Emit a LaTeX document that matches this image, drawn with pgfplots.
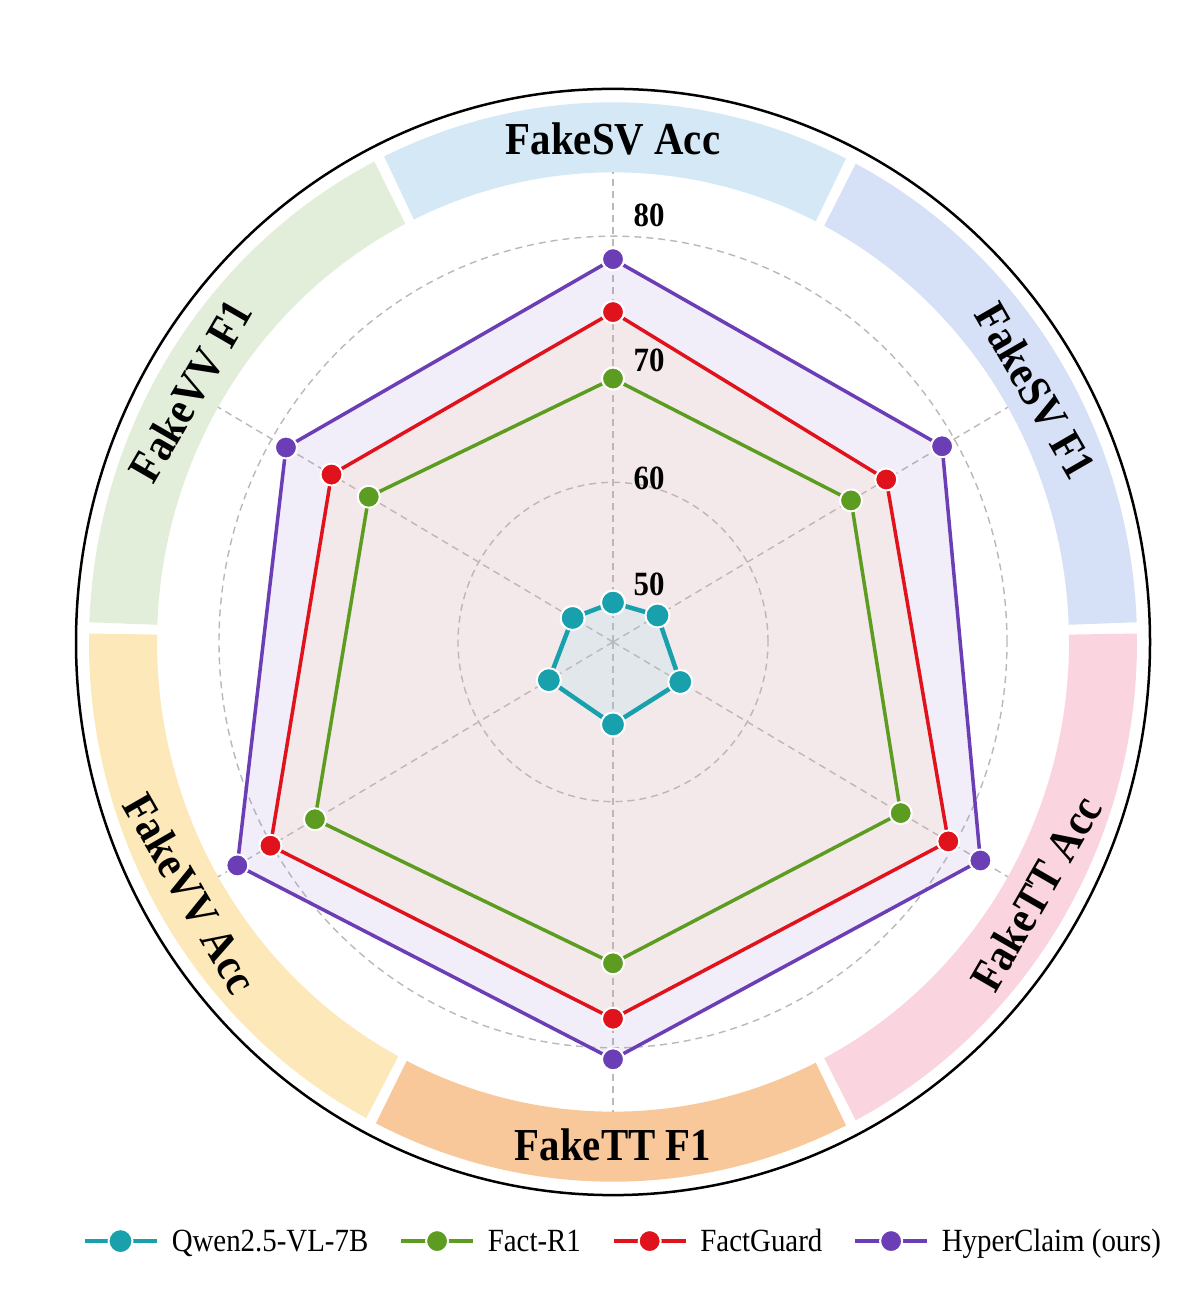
\documentclass[border=0pt]{standalone}
\usepackage{pgfplots}
\pgfplotsset{compat=1.18}
\usepackage{pgfplotstable}
\usepackage{graphicx}
\usepackage{fontspec}
\setmainfont{Liberation Serif}

\definecolor{cteal}{RGB}{24,160,172}
\definecolor{cgreen}{RGB}{92,156,32}
\definecolor{cred}{RGB}{224,18,28}
\definecolor{cpurple}{RGB}{108,62,182}
\definecolor{fpurple}{RGB}{168,142,215}
\definecolor{fred}{RGB}{255,205,149}
\definecolor{fteal}{RGB}{124,220,235}
\definecolor{ringA}{RGB}{212,232,246}
\definecolor{ringB}{RGB}{214,224,246}
\definecolor{ringC}{RGB}{250,212,222}
\definecolor{ringD}{RGB}{248,200,155}
\definecolor{ringE}{RGB}{252,232,184}
\definecolor{ringF}{RGB}{226,238,218}
\definecolor{gridgray}{RGB}{185,185,185}

% angle (deg), scores; radius drawn = score - 47
\pgfplotstableread{
angle qwen factr1 factguard hyper
90   50.2 68.4 73.8 78.1
30   51.3 70.0 73.4 78.8
-30  53.5 74.8 79.4 82.5
-90  53.7 73.1 77.6 80.9
-150 53.2 75.8 80.1 83.3
150  50.9 70.6 74.2 78.6
90   50.2 68.4 73.8 78.1
}\radar

\newcommand{\sector}[3]{%
  \fill[#1] (#2:456bp) arc[start angle=#2,end angle=#3,radius=456bp]
    -- (#3:524bp) arc[start angle=#3,end angle=#2,radius=524bp] -- cycle;}

\begin{document}
\begin{tikzpicture}
\useasboundingbox (0,0) rectangle (1201bp,1309bp);
\fill[white] (0,0) rectangle (1201bp,1309bp);
\begin{scope}[shift={(613bp,667bp)}, yscale=1.03]
  \sector{ringA}{63.6}{115.9}
  \sector{ringB}{2.1}{62.4}
  \sector{ringC}{-62.4}{0.9}
  \sector{ringD}{-116.9}{-63.6}
  \sector{ringE}{179.1}{241.9}
  \sector{ringF}{117.1}{177.9}
  \draw[line width=2.5bp, black] (0,0) circle[radius=537bp];
  \draw[gridgray, line width=1.4bp, dash pattern=on 7bp off 5bp] (0,0) circle[radius=155bp];
  \draw[gridgray, line width=1.4bp, dash pattern=on 7bp off 5bp] (0,0) circle[radius=394bp];
  \foreach \a in {90,30,-30,-90,-150,150}
    \draw[gridgray, line width=1.4bp, dash pattern=on 7bp off 5bp] (0,0) -- (\a:456bp);
  \begin{scope}[font=\bfseries\fontsize{41}{45}\selectfont]
    \node[rotate=0]   at (90:488bp)   {\scalebox{1}[1.12]{FakeSV Acc}};
    \node[rotate=-60] at (30:488bp)   {\scalebox{1}[1.12]{FakeSV F1}};
    \node[rotate=60]  at (-30:488bp)  {\scalebox{1}[1.12]{FakeTT Acc}};
    \node[rotate=0]   at (-90:488bp)  {\scalebox{1}[1.12]{FakeTT F1}};
    \node[rotate=-60] at (-150:488bp) {\scalebox{1}[1.12]{FakeVV Acc}};
    \node[rotate=60]  at (150:488bp)  {\scalebox{1}[1.12]{FakeVV F1}};
  \end{scope}
\end{scope}

\begin{axis}[
  at={(613bp,667bp)}, anchor=origin,
  x=11.95bp, y=12.31bp,
  xmin=-51.3, xmax=49.2, ymin=-54.2, ymax=52.2,
  hide axis, clip=false,
  legend columns=4,
  legend cell align=left,
  legend style={at={(0.518,0.052)}, anchor=center, draw=none, fill=none,
    font=\fontsize{29}{32}\selectfont,
    nodes={inner sep=1bp},
    /tikz/every odd column/.append style={column sep=12bp},
    /tikz/every even column/.append style={column sep=30bp}},
  legend image code/.code={\draw[#1, mark repeat=2, mark phase=2]
    plot coordinates {(0bp,0bp) (36bp,0bp) (72bp,0bp)};},
]
% fills
\addplot[draw=none, fill=fpurple, fill opacity=0.15, forget plot, data cs=polar]
  table[x=angle, y expr=\thisrow{hyper}-47] {\radar};
\addplot[draw=none, fill=fred, fill opacity=0.15, forget plot, data cs=polar]
  table[x=angle, y expr=\thisrow{factguard}-47] {\radar};
\addplot[draw=none, fill=fteal, fill opacity=0.15, forget plot, data cs=polar]
  table[x=angle, y expr=\thisrow{qwen}-47] {\radar};
% lines
\addplot[cteal, line width=4.5bp, line join=round, data cs=polar, mark=*, mark size=12bp,
  mark options={solid, fill=cteal, draw=white, line width=2bp}]
  table[x=angle, y expr=\thisrow{qwen}-47] {\radar};
\addlegendentry{\scalebox{1}[1.12]{Qwen2.5-VL-7B}}
\addplot[cgreen, line width=3.5bp, line join=round, data cs=polar, mark=*, mark size=11bp,
  mark options={solid, fill=cgreen, draw=white, line width=2bp}]
  table[x=angle, y expr=\thisrow{factr1}-47] {\radar};
\addlegendentry{\scalebox{1}[1.12]{Fact-R1}}
\addplot[cred, line width=3.5bp, line join=round, data cs=polar, mark=*, mark size=11bp,
  mark options={solid, fill=cred, draw=white, line width=2bp}]
  table[x=angle, y expr=\thisrow{factguard}-47] {\radar};
\addlegendentry{\scalebox{1}[1.12]{FactGuard}}
\addplot[cpurple, line width=3.5bp, line join=round, data cs=polar, mark=*, mark size=11bp,
  mark options={solid, fill=cpurple, draw=white, line width=2bp}]
  table[x=angle, y expr=\thisrow{hyper}-47] {\radar};
\addlegendentry{\scalebox{1}[1.12]{HyperClaim (ours)}}
\end{axis}

\begin{scope}[font=\bfseries\fontsize{31}{34}\selectfont]
  \node at (649bp,1094bp) {\scalebox{1}[1.1]{80}};
  \node at (649bp,949bp)  {\scalebox{1}[1.1]{70}};
  \node at (649bp,831bp)  {\scalebox{1}[1.1]{60}};
  \node at (649bp,725bp)  {\scalebox{1}[1.1]{50}};
\end{scope}
\end{tikzpicture}
\end{document}
